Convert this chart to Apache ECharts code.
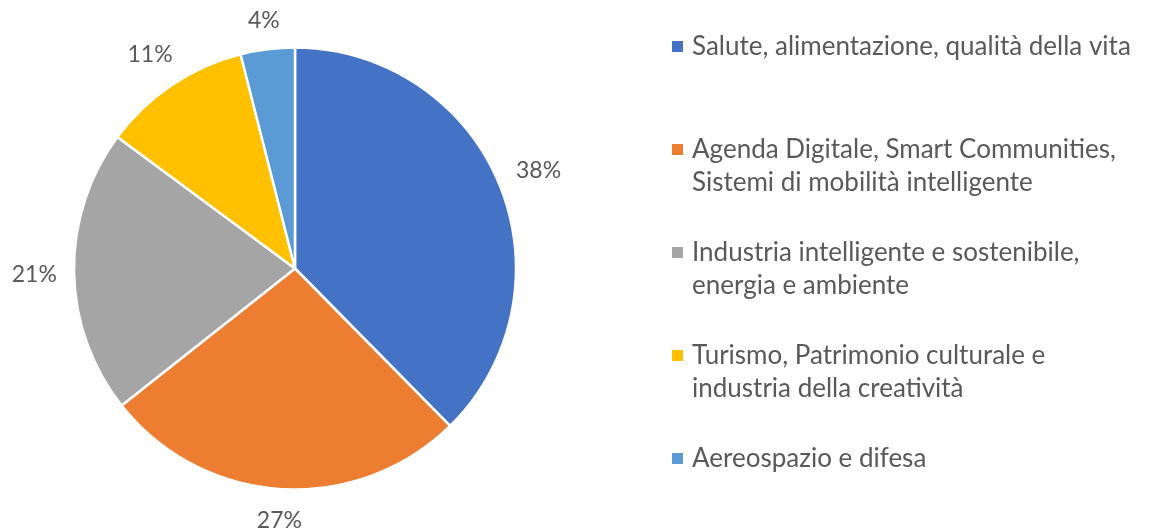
<!DOCTYPE html>
<html>
<head>
<meta charset="utf-8">
<script src="https://cdn.jsdelivr.net/npm/echarts@6/dist/echarts.min.js"></script>
<style>
  html, body { margin: 0; padding: 0; background: #ffffff; }
  #chart { width: 1150px; height: 530px; }
</style>
</head>
<body>
<div id="chart"></div>
<script>
// Ambiti di specializzazione: quota percentuale
const categories = [
  'Salute, alimentazione, qualità della vita',
  'Agenda Digitale, Smart Communities,\nSistemi di mobilità intelligente',
  'Industria intelligente e sostenibile,\nenergia e ambiente',
  'Turismo, Patrimonio culturale e\nindustria della creatività',
  'Aereospazio e difesa'
];
const shares = [38, 27, 21, 11, 4];
const colors = ['#4472C4', '#ED7D31', '#A5A5A5', '#FFC000', '#5B9BD5'];

const FONT = 'Lato';
const TEXT_COLOR = '#595959';
const LEGEND_SIZE = 26;

const chart = echarts.init(document.getElementById('chart'), null, { renderer: 'canvas' });

// Legend entries: coloured square on the first line, wrapped lines indented under the text
const legendRich = {
  g: { width: 9, verticalAlign: 'middle' },
  s: { width: 20, verticalAlign: 'middle' },
  t: { fontFamily: FONT, fontSize: LEGEND_SIZE, color: TEXT_COLOR, lineHeight: 33, verticalAlign: 'middle' }
};
colors.forEach((c, i) => {
  legendRich['m' + i] = { width: 11, height: 11, backgroundColor: c, verticalAlign: 'middle' };
});

function legendFormatter(name) {
  const idx = categories.indexOf(name);
  const lines = name.split('\n');
  return lines.map((ln, k) =>
    (k === 0 ? '{m' + idx + '|}{g|}' : '{s|}') + '{t|' + ln + '}'
  ).join('\n');
}

const legendBase = {
  orient: 'vertical',
  left: 662,
  icon: 'none',
  itemWidth: 0,
  itemHeight: 11,
  itemGap: 37,
  selectedMode: false,
  formatter: legendFormatter,
  textStyle: { fontFamily: FONT, fontSize: LEGEND_SIZE, color: TEXT_COLOR, lineHeight: 33, rich: legendRich }
};

// Data labels sit just outside the rim along each slice's bisector,
// the nearest corner of the text box kept a fixed gap from the circle
const LABEL_GAP = 17;
const LABEL_BASELINE_SHIFT = 2;
function placeLabel(params) {
  const data = chart.getModel().getSeriesByIndex(0).getData();
  const lay = data.getItemLayout(params.dataIndex);
  if (!lay) return {};
  const mid = (lay.startAngle + lay.endAngle) / 2;
  const dx = Math.cos(mid), dy = Math.sin(mid);
  const hw = params.labelRect.width / 2, hh = params.labelRect.height / 2;
  const ext = hw * Math.abs(dx) + hh * Math.abs(dy);
  const d = lay.r + LABEL_GAP + ext;
  return {
    x: lay.cx + dx * d,
    y: lay.cy + dy * d + LABEL_BASELINE_SHIFT,
    align: 'center',
    verticalAlign: 'middle'
  };
}

chart.setOption({
  backgroundColor: '#ffffff',
  animation: false,
  color: colors,
  legend: [
    Object.assign({}, legendBase, { top: 25, data: categories.slice(0, 1) }),
    Object.assign({}, legendBase, { top: 128, data: categories.slice(1) })
  ],
  series: [{
    type: 'pie',
    center: [295, 268.5],
    radius: 221,
    startAngle: 90,
    clockwise: true,
    avoidLabelOverlap: false,
    itemStyle: { borderColor: '#ffffff', borderWidth: 2.5 },
    emphasis: { disabled: true },
    label: {
      show: true,
      position: 'outside',
      formatter: p => p.value + '%',
      fontFamily: FONT,
      fontSize: 23,
      color: TEXT_COLOR
    },
    labelLine: { show: false, length: 20, length2: 0 },
    labelLayout: placeLabel,
    data: categories.map((name, i) => ({ name: name, value: shares[i] }))
  }]
});
</script>
</body>
</html>
